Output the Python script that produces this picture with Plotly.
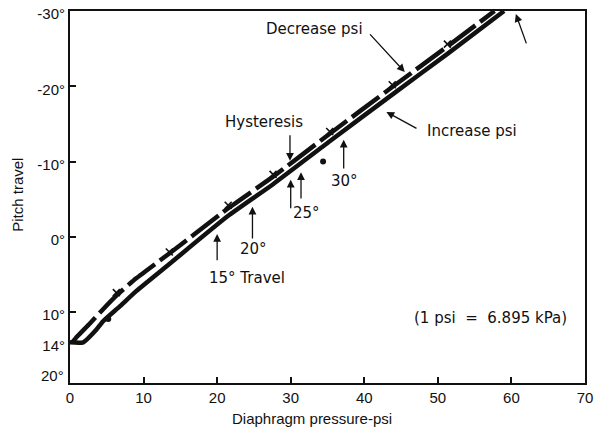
import plotly.graph_objects as go

# ---- data ----
dec_psi = [0.3, 1.0, 2.7, 4.5, 6.3, 9.0, 13.5, 21.5, 27.6, 35.3, 43.8, 51.3, 57.7]
dec_deg = [14.0, 13.2, 11.5, 9.6, 7.8, 5.5, 2.2, -3.8, -8.0, -13.7, -19.9, -25.3, -30.0]

inc_psi = [0.0, 1.8, 3.6, 4.5, 6.8, 9.0, 13.5, 21.5, 27.6, 35.3, 43.8, 51.3, 59.0]
inc_deg = [14.0, 14.0, 12.3, 11.2, 9.2, 7.2, 3.6, -2.8, -7.0, -12.7, -18.9, -24.3, -30.0]

mark_psi = [6.3, 13.5, 21.5, 27.6, 35.3, 43.8, 51.3]
mark_deg = [7.4, 2.0, -4.2, -8.3, -14.0, -20.2, -25.6]

dot_psi = [5.2, 34.4]
dot_deg = [10.9, -10.0]

x_ticks = [0, 10, 20, 30, 40, 50, 60, 70]
y_ticks = [-30, -20, -10, 0, 10, 14]
y_ticktext = ["-30°", "-20°", "-10°", "0°", "10°", "14°"]

INK = "#111111"
FONT = "Liberation Sans, Arial, sans-serif"
AFONT = "DejaVu Sans, sans-serif"

fig = go.Figure()
fig.add_trace(go.Scatter(x=inc_psi, y=inc_deg, mode="lines",
                         line=dict(color=INK, width=4.5, shape="spline", smoothing=0.5),
                         hoverinfo="skip", showlegend=False))
fig.add_trace(go.Scatter(x=dec_psi, y=dec_deg, mode="lines",
                         line=dict(color=INK, width=4.5, dash="34px,6px", shape="spline", smoothing=0.5),
                         hoverinfo="skip", showlegend=False))
fig.add_trace(go.Scatter(x=mark_psi, y=mark_deg, mode="markers",
                         marker=dict(symbol="x-thin", size=7, line=dict(color=INK, width=1.6)),
                         hoverinfo="skip", showlegend=False))
fig.add_trace(go.Scatter(x=dot_psi, y=dot_deg, mode="markers",
                         marker=dict(symbol="circle", size=6, color=INK),
                         hoverinfo="skip", showlegend=False))

texts = [
    ("Decrease psi", 33.3, -27.6),
    ("Increase psi", 54.6, -14.1),
    ("Hysteresis", 26.4, -15.3),
    ("15° Travel", 24.0, 5.5),
    ("20°", 24.9, 1.6),
    ("25°", 32.1, -3.2),
    ("30°", 37.3, -7.4),
    ("(1 psi  =  6.895 kPa)", 57.1, 10.8),
]
for t, x, y in texts:
    fig.add_annotation(x=x, y=y, text=t.replace("  ", "\u00a0\u00a0"), showarrow=False,
                       font=dict(family=AFONT, size=15, color=INK))

# arrows: (head_x, head_y, tail_x, tail_y)
arrows = [
    (45.5, -21.9, 40.6, -27.1),
    (43.0, -16.6, 47.3, -14.3),
    (29.9, -10.1, 29.9, -13.7),
    (20.0, -0.4, 20.0, 3.3),
    (24.8, -4.0, 24.8, 0.4),
    (30.0, -7.6, 30.0, -3.6),
    (31.4, -8.6, 31.4, -4.9),
    (37.2, -12.9, 37.2, -8.9),
    (60.6, -29.6, 62.1, -25.5),
]
for hx, hy, tx, ty in arrows:
    fig.add_annotation(x=hx, y=hy, ax=tx, ay=ty, axref="x", ayref="y", text="",
                       showarrow=True, arrowhead=2, arrowsize=1.2, arrowwidth=1.3,
                       arrowcolor=INK)

# axis titles and the bottom "20°" label
fig.add_annotation(xref="paper", yref="y", x=0, y=-5.6, xanchor="center", yanchor="middle",
                   xshift=-52, text="Pitch travel", textangle=-90, showarrow=False,
                   font=dict(family=FONT, size=15, color=INK))
fig.add_annotation(xref="x", yref="paper", x=32.9, y=0, xanchor="center", yanchor="middle",
                   yshift=-35, text="Diaphragm pressure-psi", showarrow=False,
                   font=dict(family=FONT, size=15, color=INK))
fig.add_annotation(xref="paper", yref="paper", x=0, y=0, xanchor="right", yanchor="middle",
                   xshift=-4, yshift=8, text="20°", showarrow=False,
                   font=dict(family=FONT, size=15, color=INK))

fig.update_xaxes(range=[0, 70], tickvals=x_ticks, ticks="inside", ticklen=6, tickwidth=2,
                 tickcolor=INK, showline=True, linewidth=2, linecolor=INK, mirror=True,
                 showgrid=False, zeroline=False, automargin=False,
                 tickfont=dict(family=FONT, size=15, color=INK))
fig.update_yaxes(range=[19.4, -30], tickvals=y_ticks, ticktext=y_ticktext, ticks="inside",
                 ticklen=6, tickwidth=2, tickcolor=INK, showline=True, linewidth=2,
                 linecolor=INK, mirror=True, showgrid=False, zeroline=False, automargin=False,
                 ticklabelshift=-3,
                 tickfont=dict(family=FONT, size=15, color=INK))

fig.update_layout(width=596, height=436, margin=dict(l=70, r=11, t=11, b=53),
                  plot_bgcolor="white", paper_bgcolor="white")

# remove the default page margin so the figure sits at the window's top-left corner
fig.write_html("out.html", config={"displayModeBar": False},
               post_script="document.body.style.margin='0';document.body.style.overflow='hidden';")
